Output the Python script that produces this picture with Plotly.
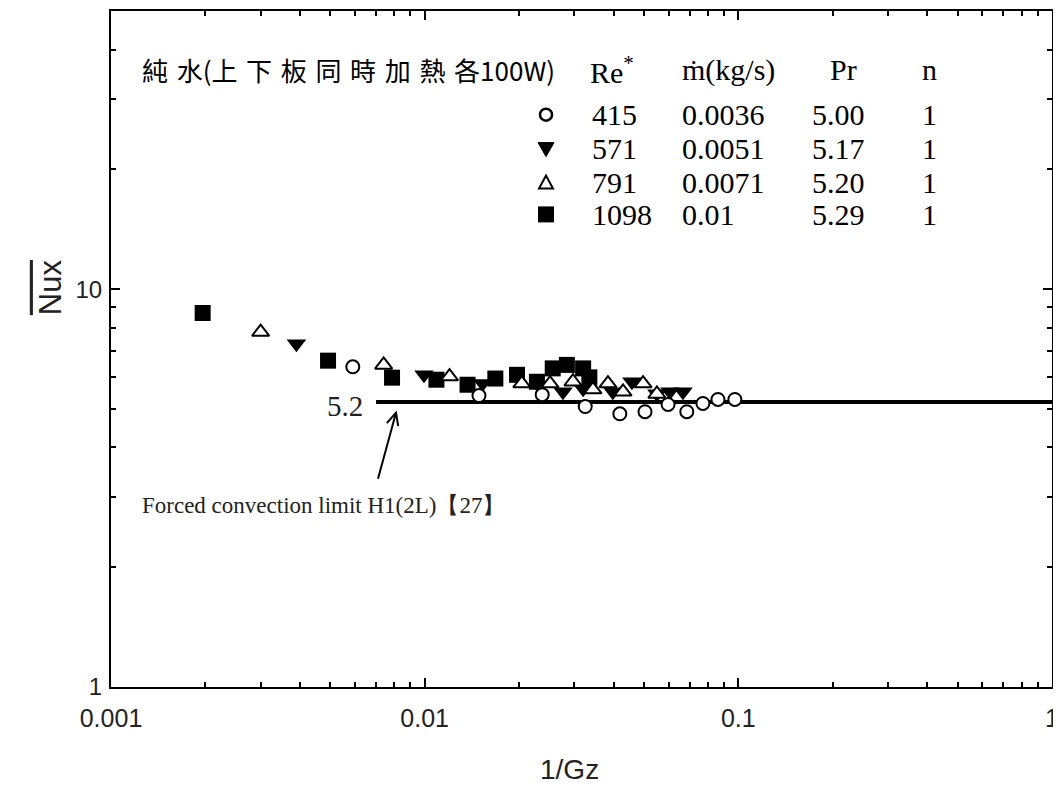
import math
import plotly.graph_objects as go

# ---------------- data ----------------
inv_gz_415 = [0.0059, 0.0149, 0.0237, 0.0325, 0.0419, 0.0504, 0.0597, 0.0685, 0.0771, 0.0861, 0.0975]
nux_415 = [6.38, 5.40, 5.43, 5.07, 4.86, 4.92, 5.13, 4.92, 5.16, 5.28, 5.28]

inv_gz_571 = [0.0039, 0.00995, 0.0153, 0.0232, 0.0276, 0.0320, 0.0398, 0.0458, 0.0550, 0.0605, 0.0666]
nux_571 = [7.29, 6.09, 5.79, 5.70, 5.52, 5.62, 5.52, 5.85, 5.46, 5.52, 5.52]

inv_gz_791 = [0.0030, 0.0074, 0.0120, 0.0204, 0.0251, 0.0297, 0.0344, 0.0384, 0.0429, 0.0497, 0.0550]
nux_791 = [7.80, 6.45, 6.03, 5.79, 5.79, 5.85, 5.59, 5.79, 5.52, 5.79, 5.45]

inv_gz_1098 = [0.00196, 0.00492, 0.00787, 0.0109, 0.0137, 0.0168, 0.0197, 0.0228, 0.0256, 0.0284, 0.0320, 0.0335]
nux_1098 = [8.71, 6.61, 5.99, 5.92, 5.75, 5.96, 6.09, 5.85, 6.32, 6.45, 6.32, 6.0]

limit_x = [0.007, 1.0]
limit_y = [5.2, 5.2]
limit_label = "5.2"

re_labels = ["415", "571", "791", "1098"]
mdot_labels = ["0.0036", "0.0051", "0.0071", "0.01"]
pr_labels = ["5.00", "5.17", "5.20", "5.29"]
n_labels = ["1", "1", "1", "1"]

x_tickvals = [0.001, 0.01, 0.1, 1]
x_ticktext = ["0.001", "0.01", "0.1", "1"]
y_tickvals = [1, 10]
y_ticktext = ["1", "10"]

# ---------------- figure ----------------
SERIF = "Liberation Serif"
SANS = "Liberation Sans, Arial"
CJK = "Noto Sans CJK TC"

fig = go.Figure()

fig.add_trace(go.Scatter(x=limit_x, y=limit_y, mode="lines",
                         line=dict(color="black", width=4), showlegend=False, hoverinfo="skip"))

mk_line = dict(color="black", width=2)
fig.add_trace(go.Scatter(x=inv_gz_1098, y=nux_1098, mode="markers", name="1098",
                         marker=dict(symbol="square", size=16, color="black", line=dict(color="black", width=0))))
fig.add_trace(go.Scatter(x=inv_gz_571, y=nux_571, mode="markers", name="571",
                         marker=dict(symbol="triangle-down", size=17, color="black", line=dict(color="black", width=0))))
fig.add_trace(go.Scatter(x=inv_gz_791, y=nux_791, mode="markers", name="791",
                         marker=dict(symbol="triangle-up", size=15, color="white", line=mk_line)))
fig.add_trace(go.Scatter(x=inv_gz_415, y=nux_415, mode="markers", name="415",
                         marker=dict(symbol="circle", size=13, color="white", line=mk_line)))

# minor tick positions (axis decoration)
x_minor = [m * 10 ** e for e in (-3, -2, -1) for m in range(2, 10)]
y_minor = [m for m in range(2, 10)] + [20, 30, 40]

axis_common = dict(
    type="log", showgrid=False, zeroline=False, showline=True, linecolor="black", linewidth=2,
    mirror="allticks", ticks="inside", ticklen=9, tickwidth=2, tickcolor="black",
    ticklabeloverflow="allow",
)
fig.update_xaxes(**axis_common, range=[-3, 0], tickmode="array", tickvals=x_tickvals, ticktext=x_ticktext,
                 tickfont=dict(family=SANS, size=25, color="#222"),
                 minor=dict(tickmode="array", tickvals=x_minor, ticks="inside", ticklen=5, tickwidth=2, tickcolor="black"),
                 ticklabelstandoff=8)
fig.update_yaxes(**axis_common, range=[0, math.log10(50)], tickmode="array", tickvals=y_tickvals, ticktext=y_ticktext,
                 tickfont=dict(family=SANS, size=24, color="#222"),
                 minor=dict(tickmode="array", tickvals=y_minor, ticks="inside", ticklen=5, tickwidth=2, tickcolor="black"),
                 ticklabelstandoff=2)

# page has an 8px body margin: plot area on page spans x 111..1052, y 9..687
OFF = 8
W, H = 1061 - OFF, 792 - OFF
PL, PR, PT, PB = 111, 1052, 9, 687
L, R, T = PL - OFF, 9, PT - OFF
B = H - (PB - OFF)


def px(xp):
    return (xp - PL) / (PR - PL)


def py(yp):
    return (PB - yp) / (PB - PT)


def note(text, xp, yp, size, family, xanchor="center", color="black", **kw):
    return dict(text=text, x=px(xp), y=py(yp), xref="paper", yref="paper", showarrow=False,
                xanchor=xanchor, yanchor="middle", font=dict(family=family, size=size, color=color), **kw)


ann = []
# axis titles
ann.append(note("1/Gz", 569, 770, 28, SANS, color="#222"))
ann.append(note('<span style="text-decoration:overline">Nux</span>', 50, 286, 31, SANS,
                color="#222", textangle=-90))

# table header
sp = "\u2004"
title = sp.join(list("純水")) + "(" + sp.join(list("上下板同時加熱各")) + "100W)"
ann.append(note(title, 140, 68, 26, CJK, xanchor="left"))
hdr = [("Re<sup>*</sup>", 588), ("\u1e41(kg/s)", 680), ("Pr", 828), ("n", 920)]
for t, xx in hdr:
    ann.append(note(t, xx, 68, 30, SERIF, xanchor="left"))

rows_y = [113, 147, 181, 213]
cols = [(re_labels, 590), (mdot_labels, 680), (pr_labels, 810), (n_labels, 920)]
for labels, xx in cols:
    for lab, yy in zip(labels, rows_y):
        ann.append(note(lab, xx, yy, 30, SERIF, xanchor="left"))

# limit label
ann.append(note(limit_label, 345, 405, 29, SERIF, color="#222"))
ann.append(note("Forced convection limit H1(2L)【27】", 140, 505, 23, SERIF, xanchor="left", color="#222"))

shapes = []
# arrow (shaft + open head) anchored at its tip, sized in pixels
arrow_common = dict(xref="paper", yref="paper", xsizemode="pixel", ysizemode="pixel",
                    xanchor=px(396), yanchor=py(412), line=dict(color="black", width=2))
shapes.append(dict(type="line", x0=-18, y0=-66, x1=0, y1=0, **arrow_common))
shapes.append(dict(type="path", path="M 2.2,-13.2 L 0,0 L -9.2,-10.3", **arrow_common))

# legend glyphs in table (shapes sized in pixels)
mx = px(546)
shapes.append(dict(type="circle", xref="paper", yref="paper", xsizemode="pixel", ysizemode="pixel",
                   xanchor=mx, yanchor=py(rows_y[0]), x0=-6, x1=6, y0=-6, y1=6,
                   line=dict(color="black", width=2.5), fillcolor="white"))
shapes.append(dict(type="path", xref="paper", yref="paper", xsizemode="pixel", ysizemode="pixel",
                   xanchor=mx, yanchor=py(rows_y[1]), path="M -8,6 L 8,6 L 0,-8 Z",
                   line=dict(color="black", width=1), fillcolor="black"))
shapes.append(dict(type="path", xref="paper", yref="paper", xsizemode="pixel", ysizemode="pixel",
                   xanchor=mx, yanchor=py(rows_y[2]), path="M -7,-6 L 7,-6 L 0,7 Z",
                   line=dict(color="black", width=2), fillcolor="white"))
shapes.append(dict(type="rect", xref="paper", yref="paper", xsizemode="pixel", ysizemode="pixel",
                   xanchor=mx, yanchor=py(rows_y[3]), x0=-8, x1=8, y0=-8, y1=8,
                   line=dict(color="black", width=0), fillcolor="black"))

fig.update_layout(
    width=W, height=H, autosize=False,
    margin=dict(l=L, r=R, t=T, b=B),
    paper_bgcolor="white", plot_bgcolor="white",
    showlegend=False,
    annotations=ann, shapes=shapes,
)

fig.write_html("out.html", config={"displayModeBar": False})
